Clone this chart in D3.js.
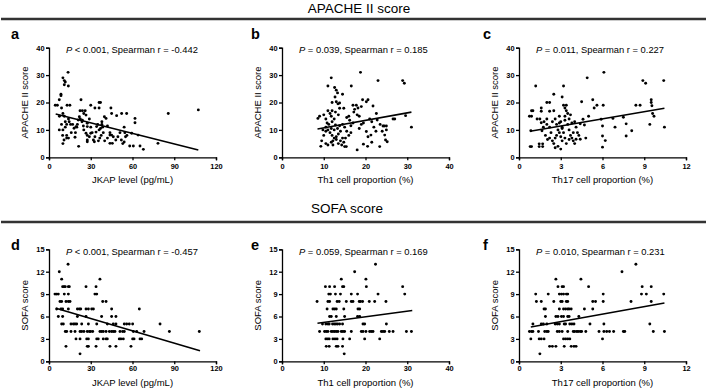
<!DOCTYPE html>
<html>
<head>
<meta charset="utf-8">
<script src="https://cdn.jsdelivr.net/npm/d3@7"></script>
<style>
  body { margin: 0; background: #fff; }
  text { font-family: Arial, "Liberation Sans", sans-serif; fill: #000; }
</style>
</head>
<body>
<div class="viz"></div>
<script>
// section titles
const sectionTitles = ['APACHE II score', 'SOFA score']
const panelLetters = ['a', 'b', 'c', 'd', 'e', 'f']

// tick labels / domains
const jkapTicks = [0, 30, 60, 90, 120]
const th1Ticks = [0, 10, 20, 30, 40]
const th17Ticks = [0, 3, 6, 9, 12]
const apacheTicks = [0, 10, 20, 30, 40]
const sofaTicks = [0, 3, 6, 9, 12, 15]

// annotation text: [operator, P value, r]
const stats = [
  ['<', '0.001', '-0.442'],
  ['=', '0.039', '0.185'],
  ['=', '0.011', '0.227'],
  ['<', '0.001', '-0.457'],
  ['=', '0.059', '0.169'],
  ['=', '0.010', '0.231']
]

// fitted lines, [[x1, y1], [x2, y2]]
const fitLines = [
  [[4.8, 15.8], [107.3, 2.7]],
  [[8.5, 10.3], [31, 16.5]],
  [[0.8, 9.5], [10.45, 17.9]],
  [[5, 7.1], [108.5, 1.4]],
  [[8.5, 5.1], [31.2, 6.8]],
  [[0.85, 4.6], [10.45, 7.8]]
]

// a: JKAP vs APACHE II
const jkapApache = [[4.5,19],[6,19],[7.4,21],[8.6,23],[8.6,22.5],[9,18],[10,29],[11,28],[11.7,27.5],[11,26.5],[13.9,26],[13.7,31],[13,19],[15,19],[23,21],[30,19],[36,20],[37,20],[33,18],[44.5,18],[7.5,15],[10,16],[11,15],[14,14],[14.5,13],[15.5,12],[17,12],[12.7,12],[11.7,13],[9,12],[10,10],[7.4,10],[11.7,11],[9.8,8],[10.8,6.3],[10,5],[12.7,7],[14,7],[12.7,8],[18.7,7.3],[18,10.6],[19.4,11.2],[20.4,12],[21,13.6],[21.8,14.8],[22.3,17],[24,17],[26,17],[25,16],[26.6,15.4],[23.7,13],[24.7,11.4],[22.5,14],[21.3,4],[27.5,12.4],[27.5,11.2],[26.6,8.8],[27.5,8],[27.5,6.3],[27.5,5.7],[29,7.5],[30,8.8],[31.9,6.3],[33,7.5],[33.8,9.2],[34.2,11.2],[35,12],[36,10],[37,10.5],[38,12],[38.5,11],[39,9],[37.5,8],[36.5,7],[35.5,6],[32.6,5.7],[39.8,14.8],[41,14.2],[42,11.4],[43.8,9],[43.8,8.1],[45,8.1],[46.2,7.5],[43.8,5.1],[45.5,5.1],[45,16],[48.6,15.2],[48,6.3],[49.5,7.5],[51,9],[52.2,16],[55.8,16],[52,6.3],[53,5],[54,5.6],[55,7.5],[54.5,9],[56,8],[54,11],[59.4,8.8],[58,4.1],[60.6,4.1],[61.8,14.2],[61.8,12.6],[64,8.1],[65.4,4.1],[67.8,2.9],[78.3,5.1],[85.7,16],[107.3,17.3],[25,10],[24,13.5],[29,14],[30,11],[31,9],[40,6],[42,7],[20,11],[19,9],[16,9],[38,13],[36,18]]

// b: Th1 vs APACHE II
const th1Apache = [[18.8,31],[11.8,29],[16.6,26],[23,28],[28.9,28],[29.3,27],[11,26],[12.6,25.5],[13,24.5],[13.3,23.5],[14.5,23],[12.7,22],[13,20.3],[13.4,19.5],[13.8,17.9],[14.8,17.9],[17,19],[17.4,17.5],[17.8,19],[18.2,18],[18,15.5],[19.3,21],[20.2,20.3],[20.6,21],[21.8,18.7],[22.6,16],[22.8,13.6],[24.2,11.4],[24.5,11.4],[25,11.4],[25,10],[24.6,8.1],[24.8,6.3],[25.2,5.7],[23.4,3.9],[20.2,9.4],[20.6,7.5],[21.3,8.1],[21.5,5.5],[20.5,4],[19.5,4.8],[18,2.7],[15.4,3.9],[15,3.9],[12.2,4.5],[9.3,4],[29.6,15.2],[31,11],[26.6,14],[21,14],[21.5,13],[19.5,12.5],[16.5,11.5],[17,12.5],[16.2,13.5],[15.5,14.5],[14.5,12],[15,11],[15.5,9.5],[16,8],[15.2,7],[14.8,5.5],[14.3,4.5],[8.6,14.2],[9,15],[10,15.5],[10.5,14],[11,17],[11.5,16],[12,17],[11.8,15],[12.5,14],[12,13],[11.2,12],[10.5,11],[9.8,10],[10.5,9.5],[11,10],[11.5,9],[12,8],[12.5,7],[13,6.5],[12.2,6],[11.8,5.5],[11,4.5],[10.5,5],[13.5,5],[13,7.5],[13.5,8.5],[14,9.5],[13.3,10.5],[13.8,11.5],[12.8,11.8],[12.5,10],[11.8,10.5],[10.8,12.5],[10,8],[9.5,6],[14,6],[14.5,7],[16.5,9],[18.5,10.5],[19,12],[22,11],[23.5,12],[18.5,15],[19,18.5],[27,14],[17.2,16.5],[13.5,15.5],[12.8,16.5],[12,20],[13.8,19.8],[16,15],[24,9.5],[22.5,9.5]]

// c: Th17 vs APACHE II
const th17Apache = [[4.9,29],[6.1,31],[1.2,26],[2.5,23],[3.2,26],[3.1,22],[2.0,20],[2.2,20],[1.6,18],[0.9,17],[1.0,17],[0.75,15],[0.9,15],[1.3,14],[1.5,14],[1.6,12.6],[2.0,14],[2.2,16.8],[1.6,16.8],[1.75,11],[1.65,9.7],[1.9,8],[2.05,6.5],[1.45,4.9],[1.45,3.9],[1.7,4.9],[1.7,3.9],[0.8,3.9],[0.9,3.9],[0.85,9.7],[4.5,20.3],[5.3,21],[5.4,18],[5.6,19],[6.05,19],[5.9,13.9],[5,15],[4.6,13.9],[4.4,12.2],[4.7,11.8],[4.1,6.6],[4.4,6.6],[6.0,7.8],[6.0,3.7],[6.2,6.1],[6,11.4],[6.75,14.2],[6.9,11],[7.5,14.6],[7.7,7.8],[7.7,12.2],[8.1,9.7],[8.4,19],[8.7,19],[8.9,28],[9.1,27],[9.5,20],[9.5,21],[9.6,16],[9.7,15],[9.4,12],[10.4,28],[10.45,11],[9.55,18.8],[2.5,17],[2.6,14],[2.7,12],[2.8,10],[2.7,8],[2.6,7],[2.5,5],[2.4,6],[2.3,9],[2.2,11],[2.9,15],[3.0,13],[3.1,11],[3.2,9],[3.3,7],[3.4,5],[3.0,3],[3.2,19],[3.3,18],[3.4,17],[3.5,16],[3.6,14],[3.5,12],[3.6,10],[3.7,8],[3.8,7],[3.9,6],[4.0,5],[3.4,19],[3.3,15],[3.1,10.5],[2.9,9],[3.0,7.5],[3.1,6],[2.8,4],[2.6,3.5],[3.9,9],[4.1,11],[4.2,9],[3.8,12.5],[3.7,15.5],[4.0,13],[4.3,8],[4.8,7],[3.6,6.5],[2.2,7],[2.0,12],[1.8,13],[2.4,13],[2.9,12.5],[3.3,13.5]]

// d: JKAP vs SOFA
const jkapSofa = [[13.7,13],[7.4,12],[9.1,11],[36.6,11],[9.8,10],[10.8,10],[11.7,10],[13.9,10],[14.6,10],[26.6,10],[33.8,10],[4.3,9],[5.5,9],[6.7,9],[11,9],[13.9,9],[33,9],[34.3,9],[7.9,8],[9.1,8],[12.2,8],[13.9,8],[15.1,8],[38.6,8],[41,8],[5.5,7],[8.6,7],[9.8,7],[13.9,7],[20.4,7],[21.8,7],[22.8,7],[26.6,7],[28.3,7],[30.7,7],[31.9,7],[45,7],[64.9,7],[6.7,6],[9.8,6],[20.4,6],[26.6,6],[37.8,6],[45,6],[48.1,6],[9.1,5],[10.3,5],[15.8,5],[17.5,5],[18.7,5],[19.9,5],[23.5,5],[28.3,5],[34.3,5],[41.9,5],[46.2,5],[48.1,5],[54.1,5],[55.8,5],[57.7,5],[60.1,5],[79.8,5],[11.7,4],[12.7,4],[15.8,4],[18.7,4],[22.3,4],[23.5,4],[25.1,4],[27.5,4],[29,4],[29.9,4],[31.4,4],[36.6,4],[37.8,4],[39,4],[41,4],[43.4,4],[45,4],[46.2,4],[47.4,4],[51,4],[52.9,4],[54.1,4],[60.6,4],[63,4],[68.3,4],[86.5,4],[108,4],[19.4,3],[22.3,3],[27.1,3],[28.3,3],[34.3,3],[35.4,3],[39,3],[41,3],[41.9,3],[50.5,3],[51.7,3],[53.4,3],[60.1,3],[61.1,3],[65.4,3],[66.6,3],[12.2,2],[27.5,2],[28.3,2],[33.8,2],[43.8,2],[48.1,2],[58.9,2],[22.3,1]]

// e: Th1 vs SOFA
const th1Sofa = [[22.4,13],[17.4,12],[14.2,11],[20.1,11],[10.4,10],[11.4,10],[12.6,10],[14.5,10],[14.8,10],[20.2,10],[28.9,10],[11.2,9],[11.6,9],[12.8,9],[14,9],[16.6,9],[18.1,9],[23,9],[29.4,9],[8.4,8],[11,8],[11.4,8],[13.2,8],[13.7,8],[15.4,8],[16.6,8],[17,8],[18.5,8],[18.8,8],[19.3,8],[20.9,8],[22.2,8],[24.9,8],[10.8,7],[12.2,7],[12.6,7],[13,7],[14.8,7],[18.2,7],[18.6,7],[11.4,6],[11.8,6],[13,6],[15,6],[18.1,6],[18.6,6],[9.7,5],[10.5,5],[11,5],[11.3,5],[12.1,5],[12.5,5],[12.9,5],[13.3,5],[13.8,5],[14.5,5],[19.4,5],[19.8,5],[25,5],[9,4],[10.2,4],[10.6,4],[11,4],[11.8,4],[12.2,4],[12.6,4],[13,4],[13.4,4],[14.2,4],[14.6,4],[15,4],[16.6,4],[19,4],[19.4,4],[20.1,4],[21,4],[21.4,4],[21.8,4],[23.8,4],[24.2,4],[24.6,4],[25.7,4],[26.6,4],[29.8,4],[31,4],[10.5,3],[10.9,3],[11.3,3],[12.2,3],[12.7,3],[13.2,3],[14.6,3],[16.2,3],[19.8,3],[23.4,3],[10.6,2],[11.3,2],[13,2],[13.4,2],[14.5,2],[14.9,1]]

// f: Th17 vs SOFA
const th17Sofa = [[8.4,13],[7.4,12],[2.65,11],[4.45,11],[2.8,10],[3.1,10],[3.2,10],[5,10],[8.85,10],[9.5,10],[1.2,9],[2.1,9],[2.9,9],[3.05,9],[3.2,9],[3.4,9],[3.5,9],[6.05,9],[8.8,9],[9.15,9],[10.4,9],[1.25,8],[1.6,8],[2.5,8],[3,8],[3.1,8],[3.4,8],[3.5,8],[5.3,8],[5.5,8],[6.05,8],[8.05,8],[9.5,8],[1.8,7],[1.9,7],[2.9,7],[3.2,7],[3.35,7],[3.5,7],[3.6,7],[3.75,7],[4.7,7],[5.3,7],[1.9,6],[2.65,6],[2.8,6],[3.05,6],[3.2,6],[3.5,6],[3.6,6],[4.3,6],[1,5],[1.6,5],[1.75,5],[2,5],[2.6,5],[2.75,5],[2.9,5],[3.25,5],[3.35,5],[3.65,5],[3.8,5],[3.95,5],[5.1,5],[6.1,5],[9.4,5],[0.75,4],[0.9,4],[1,4],[1.4,4],[1.85,4],[2,4],[2.1,4],[2.75,4],[2.9,4],[3.1,4],[3.5,4],[3.9,4],[4,4],[4.15,4],[4.25,4],[4.4,4],[4.5,4],[4.8,4],[5.75,4],[6.1,4],[6.3,4],[6.5,4],[6.8,4],[7.5,4],[7.6,4],[9.65,4],[10.45,4],[0.85,3],[1.45,3],[1.6,3],[1.8,3],[3.2,3],[3.35,3],[3.5,3],[3.65,3],[6,3],[2.2,2],[2.4,2],[2.65,2],[3.25,2],[3.75,2],[3.95,2],[4.1,2],[1.5,1]]

const W = 708, H = 389
const svg = d3.select('.viz').append('svg')
  .attr('width', W).attr('height', H)
  .style('display', 'block')

// section headers with rule underneath
const headers = [
  { text: sectionTitles[0], x: 359, y: 12.5, rule: 19 },
  { text: sectionTitles[1], x: 347, y: 213, rule: 222 }
]
headers.forEach(h => {
  svg.append('text').text(h.text)
    .attr('x', h.x).attr('y', h.y)
    .attr('text-anchor', 'middle')
    .attr('font-size', 13.5)
  svg.append('line')
    .attr('x1', 1).attr('x2', 706)
    .attr('y1', h.rule).attr('y2', h.rule)
    .attr('stroke', '#333').attr('stroke-width', 2.5)
})

// panel layout
const lefts = [49, 282, 519]
const rowTop = [{ top: 47.7, bottom: 157.3, letterY: 39.3, statY: 53.3, tickY: 169, titleY: 182.7 },
                { top: 249.3, bottom: 361.3, letterY: 250, statY: 254.5, tickY: 371, titleY: 386 }]
const plotW = 167

const panels = [
  { pts: jkapApache, xDomain: [0, 120], xTicks: jkapTicks, yDomain: [0, 40], yTicks: apacheTicks, xTitle: 'JKAP level (pg/mL)', yTitle: 'APACHE II score' },
  { pts: th1Apache, xDomain: [0, 40], xTicks: th1Ticks, yDomain: [0, 40], yTicks: apacheTicks, xTitle: 'Th1 cell proportion (%)', yTitle: 'APACHE II score' },
  { pts: th17Apache, xDomain: [0, 12], xTicks: th17Ticks, yDomain: [0, 40], yTicks: apacheTicks, xTitle: 'Th17 cell proportion (%)', yTitle: 'APACHE II score' },
  { pts: jkapSofa, xDomain: [0, 120], xTicks: jkapTicks, yDomain: [0, 15], yTicks: sofaTicks, xTitle: 'JKAP level (pg/mL)', yTitle: 'SOFA score' },
  { pts: th1Sofa, xDomain: [0, 40], xTicks: th1Ticks, yDomain: [0, 15], yTicks: sofaTicks, xTitle: 'Th1 cell proportion (%)', yTitle: 'SOFA score' },
  { pts: th17Sofa, xDomain: [0, 12], xTicks: th17Ticks, yDomain: [0, 15], yTicks: sofaTicks, xTitle: 'Th17 cell proportion (%)', yTitle: 'SOFA score' }
]
const letterX = [11, 251, 483]

panels.forEach((p, i) => {
  const col = i % 3
  const row = rowTop[Math.floor(i / 3)]
  const left = lefts[col]
  const x = d3.scaleLinear().domain(p.xDomain).range([left, left + plotW])
  const y = d3.scaleLinear().domain(p.yDomain).range([row.bottom, row.top])
  const g = svg.append('g')

  // axes
  const xAxis = g.append('g')
    .attr('transform', `translate(0,${row.bottom})`)
    .call(d3.axisBottom(x).tickValues(p.xTicks).tickSize(3).tickPadding(2))
  const yAxis = g.append('g')
    .attr('transform', `translate(${left},0)`)
    .call(d3.axisLeft(y).tickValues(p.yTicks).tickSize(3).tickPadding(1.5))
  ;[xAxis, yAxis].forEach(a => {
    a.select('.domain').attr('stroke', '#000').attr('stroke-width', 1.3)
    a.selectAll('.tick line').attr('stroke', '#000').attr('stroke-width', 1.3)
    a.selectAll('.tick text')
      .attr('font-family', 'Arial, "Liberation Sans", sans-serif')
      .attr('font-size', 7.4).attr('font-weight', 'bold').attr('fill', '#111')
  })
  xAxis.selectAll('.tick text').attr('dy', null).attr('y', row.tickY - row.bottom)

  // points
  g.selectAll('circle').data(p.pts).enter().append('circle')
    .attr('cx', d => x(d[0])).attr('cy', d => y(d[1]))
    .attr('r', 1.45).attr('fill', '#000')

  // fit line
  g.append('path')
    .attr('d', d3.line().x(d => x(d[0])).y(d => y(d[1]))(fitLines[i]))
    .attr('stroke', '#000').attr('stroke-width', 1.6).attr('fill', 'none')

  // annotation
  const s = stats[i]
  const t = g.append('text')
    .attr('x', left + 17).attr('y', row.statY)
    .attr('font-size', 9.4)
  t.append('tspan').attr('font-style', 'italic').text('P')
  t.append('tspan').text(` ${s[0]} ${s[1]}, Spearman r = ${s[2]}`)

  // axis titles
  g.append('text').text(p.xTitle)
    .attr('x', left + plotW / 2).attr('y', row.titleY)
    .attr('text-anchor', 'middle').attr('font-size', 9.5)
  g.append('text').text(p.yTitle)
    .attr('transform', `translate(${left - 21},${(row.top + row.bottom) / 2}) rotate(-90)`)
    .attr('text-anchor', 'middle').attr('font-size', 9.5)

  // panel letter
  g.append('text').text(panelLetters[i])
    .attr('x', letterX[col]).attr('y', row.letterY)
    .attr('font-size', 14.5).attr('font-weight', 'bold')
})
</script>
</body>
</html>
